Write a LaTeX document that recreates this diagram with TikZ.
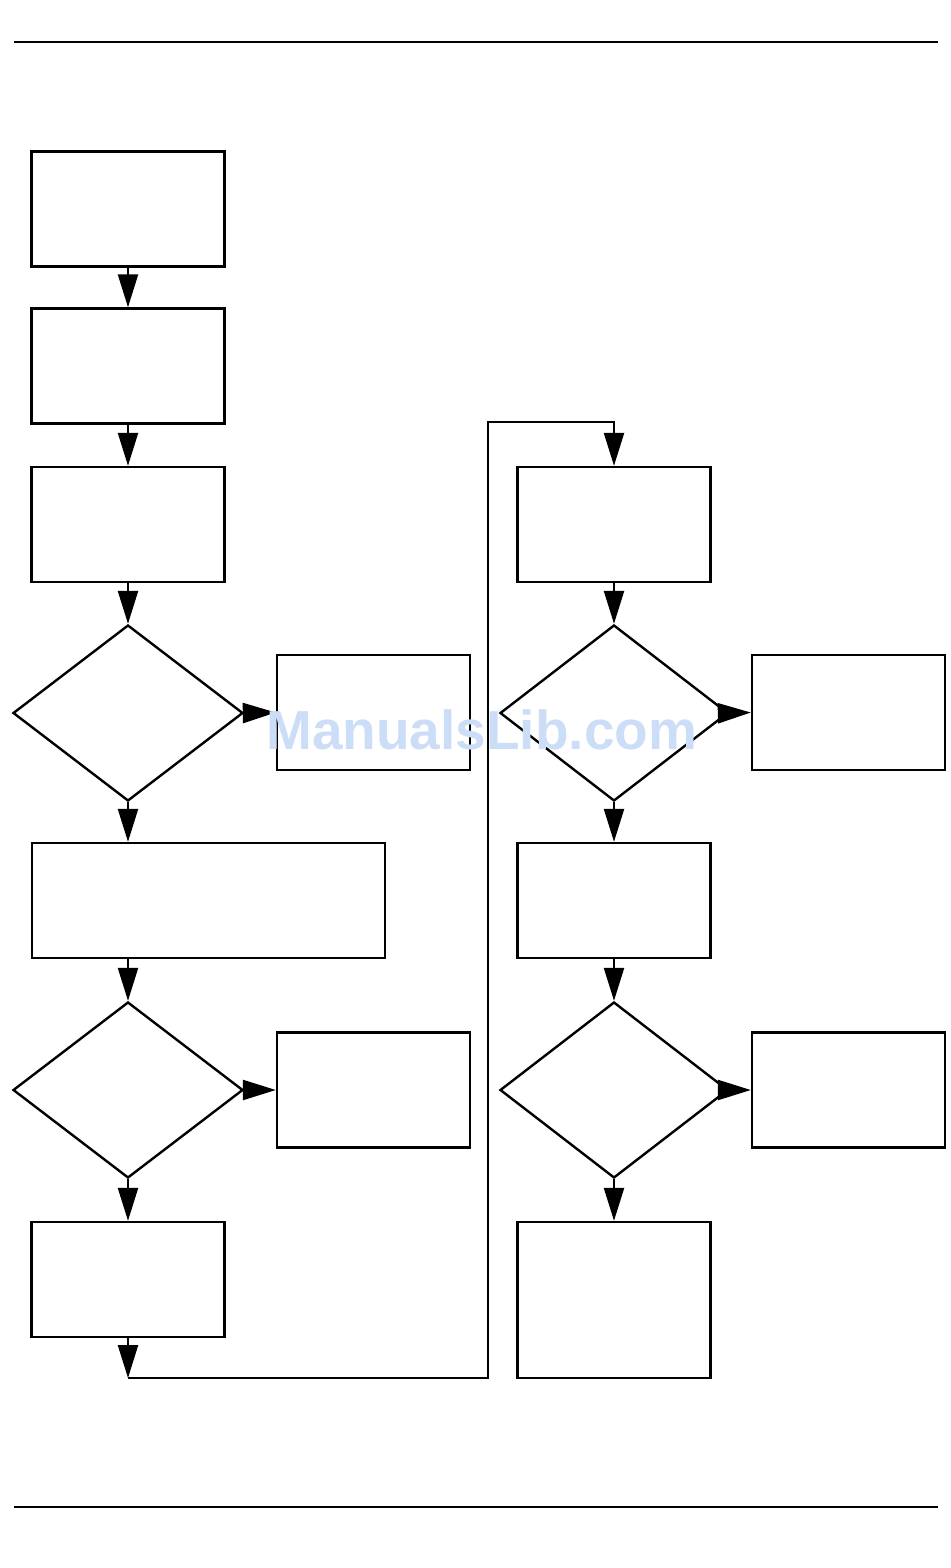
\documentclass[tikz,border=0pt]{standalone}
\usepackage{fontspec}
\newfontfamily\wmfont{Liberation Sans}
\usetikzlibrary{shapes.geometric,arrows.meta}
\definecolor{wmblue}{RGB}{204,222,247}

\begin{document}
\begin{tikzpicture}[x=1pt, y=-1pt,
    box/.style={draw, line width=2.4pt, inner sep=0pt,
      minimum width=193pt, minimum height=115pt},
    test/.style={draw, diamond, line width=2.4pt, inner sep=0pt,
      minimum width=230pt, minimum height=176pt},
    flow/.style={line width=2.4pt, -{Triangle[length=33pt,width=20pt]}}]
    \useasboundingbox (0,0) rectangle (950,1568);
    % page rules
    \draw [line width=1.3pt] (14,42)   -- (938,42);
    \draw [line width=1.3pt] (14,1507) -- (938,1507);
    % left column
    \node[box]  (b1) at (128,209)    {};
    \node[box]  (b2) at (128,366)    {};
    \node[box]  (b3) at (128,524.5)  {};
    \node[test] (d1) at (128,713)    {};
    \node[box]  (s1) at (373.5,712.5) {};
    \node[box, minimum width=353pt] (b4) at (208.5,900.5) {};
    \node[test] (d2) at (128,1090)   {};
    \node[box]  (s2) at (373.5,1090) {};
    \node[box]  (b5) at (128,1279.5) {};
    % right column
    \node[box]  (r1) at (614,524.5)  {};
    \node[test, minimum width=228pt] (d3) at (614,713) {};
    \node[box]  (s3) at (848.5,712.5) {};
    \node[box]  (r2) at (614,900.5)  {};
    \node[test, minimum width=228pt] (d4) at (614,1090) {};
    \node[box]  (s4) at (848.5,1090) {};
    \node[box, minimum height=156pt] (r3) at (614,1300) {};
    % loop corners
    \coordinate (loop-a) at (128,1378);
    \coordinate (loop-b) at (488,1378);
    \coordinate (loop-c) at (488,422);
    \coordinate (loop-d) at (614,422);
    % arrows left column
    \draw [flow] (b1.south) -- (b2.north);
    \draw [flow] (b2.south) -- (b3.north);
    \draw [flow] (b3.south) -- (d1.north);
    \draw [flow] (d1.east)  -- (s1.west);
    \draw [flow] (d1.south) -- (d1.south |- b4.north);
    \draw [flow] (d1.south |- b4.south) -- (d2.north);
    \draw [flow] (d2.east)  -- (s2.west);
    \draw [flow] (d2.south) -- (b5.north);
    \draw [flow] (b5.south) -- (loop-a);
    % loop to right column
    \draw [flow] (loop-a) -- (loop-b) -- (loop-c) -- (loop-d) -- (r1.north);
    % arrows right column
    \draw [flow] (r1.south) -- (d3.north);
    \draw [flow] (d3.east)  -- (s3.west);
    \draw [flow] (d3.south) -- (r2.north);
    \draw [flow] (r2.south) -- (d4.north);
    \draw [flow] (d4.east)  -- (s4.west);
    \draw [flow] (d4.south) -- (r3.north);
    % watermark
    \node[anchor=base west, inner sep=0pt, text=wmblue] (mark) at (266,749)
    {\wmfont\fontsize{55}{55}\selectfont\bfseries ManualsLib.com};
\end{tikzpicture}
\end{document}
